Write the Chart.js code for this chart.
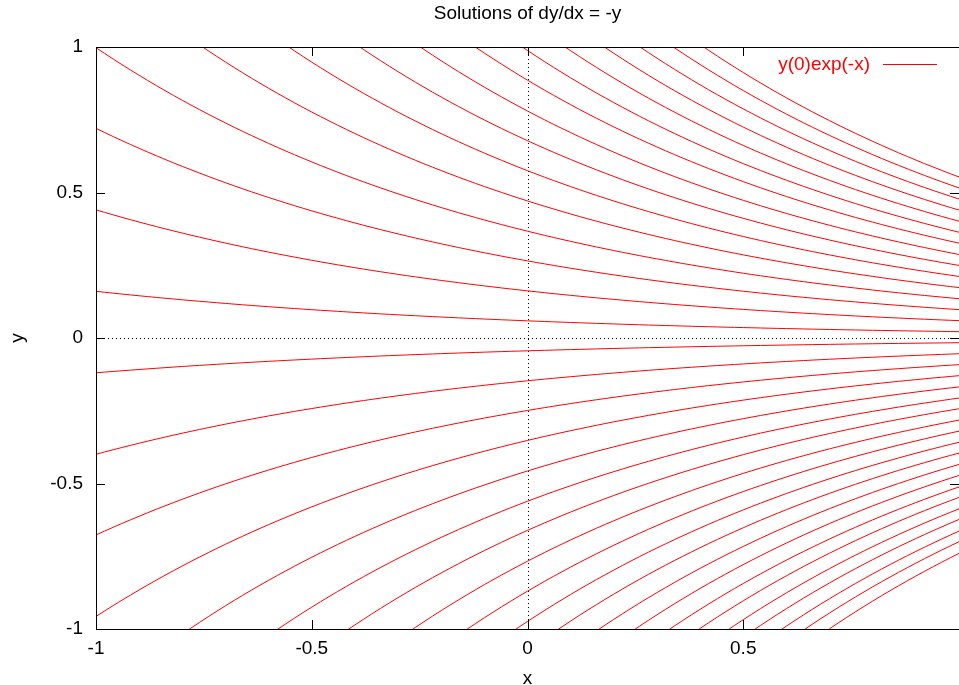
<!DOCTYPE html>
<html>
<head>
<meta charset="utf-8">
<script src="https://cdn.jsdelivr.net/npm/chart.js@4"></script>
<style>
  html,body{margin:0;padding:0;background:#fff;}
  #wrap{width:959px;height:685px;}
</style>
</head>
<body>
<div id="wrap"><canvas id="c"></canvas></div>
<script>
// y(0) of each solution curve, read where the curves cross x = 0
const y0Pos = [0.059, 0.162, 0.265, 0.367, 0.471, 0.575, 0.678, 0.780, 0.886, 0.988, 1.091, 1.195, 1.298, 1.402, 1.504];
const y0Neg = [-0.044, -0.147, -0.249, -0.352, -0.457, -0.561, -0.661, -0.767, -0.870, -0.974,
               -1.075, -1.181, -1.284, -1.391, -1.489, -1.596, -1.695, -1.804, -1.903, -2.012];
const xTicks = [-1, -0.5, 0, 0.5, 1];
const yTicks = [-1, -0.5, 0, 0.5, 1];
const nSamples = 100; // samples per curve between x=-1 and x=1

const font = "'Liberation Sans', Arial, sans-serif";
const fs = 19;

// each curve is y(0)exp(-x), as the key says
function curve(y0){
  let pts=[];
  for(let i=0;i<=nSamples;i++){
    let x=-1+2*i/nSamples;
    pts.push({x:x, y:y0*Math.exp(-x)});
  }
  return pts;
}

const datasets = y0Pos.concat(y0Neg).map(v => ({
  label: 'y(0)exp(-x)',
  data: curve(v),
  showLine: true,
  borderColor: '#ff0000',
  borderWidth: 1,
  pointRadius: 0,
  tension: 0
}));

// gnuplot look: dotted zero axes, frame, inward ticks, key top right
const gnuplotBits = {
  id: 'gnuplotBits',
  beforeDatasetsDraw(chart){
    const {ctx, chartArea:a, scales:{x, y}} = chart;
    ctx.save();
    ctx.strokeStyle = '#000';
    ctx.lineWidth = 1;
    ctx.setLineDash([1, 3]);
    let py = Math.round(y.getPixelForValue(0)) + 0.5;
    let px = Math.round(x.getPixelForValue(0)) + 0.5;
    ctx.beginPath();
    ctx.moveTo(a.left, py); ctx.lineTo(a.right, py);
    ctx.moveTo(px, a.top); ctx.lineTo(px, a.bottom);
    ctx.stroke();
    ctx.restore();
  },
  afterDatasetsDraw(chart){
    const {ctx, chartArea:a, scales:{x, y}} = chart;
    ctx.save();
    ctx.strokeStyle = '#000';
    ctx.lineWidth = 1;
    ctx.setLineDash([]);
    ctx.beginPath();
    ctx.rect(a.left + 0.5, a.top + 0.5, a.right - a.left, a.bottom - a.top);
    const t = 9;
    xTicks.forEach(v => {
      let p = Math.round(x.getPixelForValue(v)) + 0.5;
      ctx.moveTo(p, a.bottom); ctx.lineTo(p, a.bottom - t);
      ctx.moveTo(p, a.top); ctx.lineTo(p, a.top + t);
    });
    yTicks.forEach(v => {
      let p = Math.round(y.getPixelForValue(v)) + 0.5;
      ctx.moveTo(a.left, p); ctx.lineTo(a.left + t, p);
      ctx.moveTo(a.right, p); ctx.lineTo(a.right - t, p);
    });
    ctx.stroke();

    // key
    ctx.font = fs + 'px ' + font;
    ctx.fillStyle = '#ff0000';
    ctx.strokeStyle = '#ff0000';
    ctx.textAlign = 'right';
    ctx.textBaseline = 'middle';
    ctx.fillText('y(0)exp(-x)', a.right - 89, a.top + 18);
    ctx.beginPath();
    ctx.moveTo(a.right - 76, a.top + 17.5);
    ctx.lineTo(a.right - 22, a.top + 17.5);
    ctx.stroke();
    ctx.restore();
  }
};

new Chart(document.getElementById('c'), {
  type: 'scatter',
  data: { datasets: datasets },
  plugins: [gnuplotBits],
  options: {
    responsive: true,
    maintainAspectRatio: false,
    animation: false,
    layout: { padding: 0 },
    plugins: {
      legend: { display: false },
      tooltip: { enabled: false },
      title: {
        display: true,
        fullSize: false, // centre over the plot, not the canvas
        text: 'Solutions of dy/dx = -y',
        color: '#000',
        font: { family: font, size: fs, weight: 'normal', lineHeight: 1.2 },
        padding: { top: 2, bottom: 22.2 }
      }
    },
    scales: {
      x: {
        type: 'linear',
        min: -1, max: 1,
        grid: { display: false },
        border: { display: false },
        afterBuildTicks: s => { s.ticks = xTicks.map(v => ({value: v})); },
        afterFit: s => { s.height = 56; s.paddingRight = 0; },
        ticks: {
          color: '#000',
          padding: 0,
          maxRotation: 0,
          font: { family: font, size: fs },
          callback: v => v === 1 ? '' : String(v)
        },
        title: {
          display: true,
          text: 'x',
          color: '#000',
          font: { family: font, size: fs },
          padding: { top: 0, bottom: -5 }
        }
      },
      y: {
        type: 'linear',
        min: -1, max: 1,
        grid: { display: false },
        border: { display: false },
        afterBuildTicks: s => { s.ticks = yTicks.map(v => ({value: v})); },
        afterFit: s => { s.width = 96; },
        ticks: {
          color: '#000',
          padding: 5,
          font: { family: font, size: fs },
          callback: v => String(v)
        },
        title: {
          display: true,
          text: 'y',
          color: '#000',
          font: { family: font, size: fs },
          padding: { top: 6, bottom: 0 }
        }
      }
    }
  }
});
</script>
</body>
</html>
